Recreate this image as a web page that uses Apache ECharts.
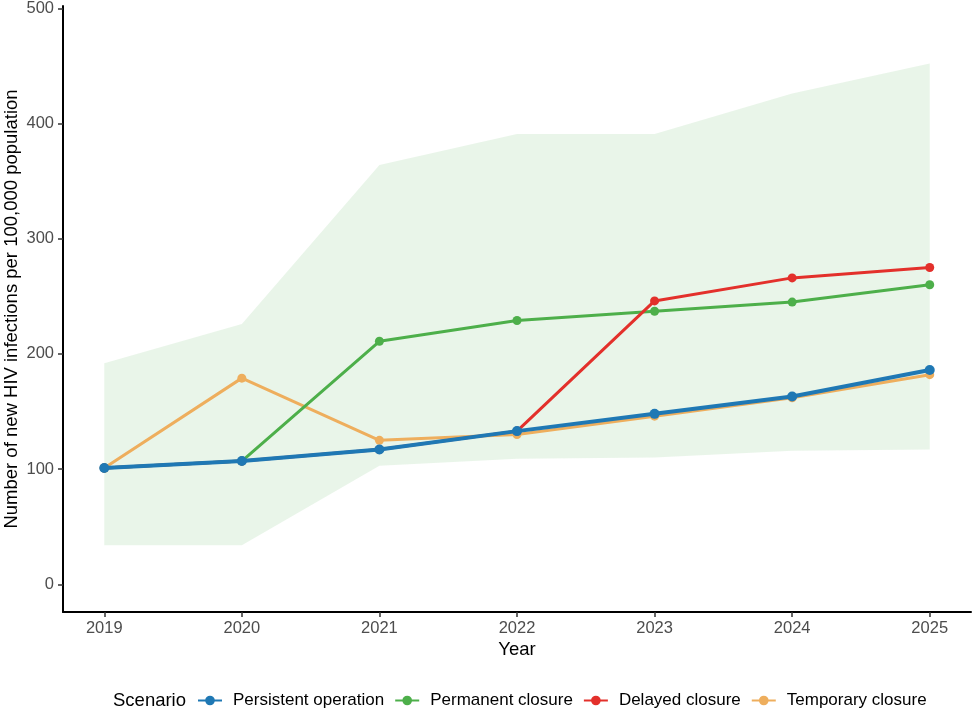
<!DOCTYPE html>
<html>
<head>
<meta charset="utf-8">
<script src="https://cdn.jsdelivr.net/npm/echarts@6/dist/echarts.min.js"></script>
<style>
  html, body { margin: 0; padding: 0; background: #fff; }
  #main { width: 975px; height: 715px; }
</style>
</head>
<body>
<div id="main"></div>
<script>
var years = [2019, 2020, 2021, 2022, 2023, 2024, 2025];
var yTicks = [0, 100, 200, 300, 400, 500];

// scenario values (new HIV infections per 100,000)
var persistent = [101, 107, 117, 133, 148, 163, 186];
var permanent  = [101, 107, 211, 229, 237, 245, 260];
var delayed    = [101, 107, 117, 133, 246, 266, 275];
var temporary  = [101, 179, 125, 130, 146, 162, 182];

// uncertainty band
var bandLow  = [34, 34, 103, 109, 110, 116, 117];
var bandHigh = [192, 226, 364, 391, 391, 426, 452];

var names = ['Persistent operation', 'Permanent closure', 'Delayed closure', 'Temporary closure'];
var colors = ['#1F78B4', '#4DAF4A', '#E3302B', '#EEAE5D'];

function pairs(vals) {
  var res = [];
  for (var i = 0; i < years.length; i++) res.push([years[i], vals[i]]);
  return res;
}

var myChart = echarts.init(document.getElementById('main'));

function lineSeries(name, vals, color, width, size, z) {
  return {
    name: name,
    type: 'line',
    data: pairs(vals),
    symbol: 'circle',
    symbolSize: size,
    z: z,
    itemStyle: { color: color },
    lineStyle: { color: color, width: width },
    emphasis: { disabled: true }
  };
}

// ribbon drawn as one polygon through the axis scales
function renderBand(params, api) {
  if (params.dataIndex !== 0) return;
  var pts = [];
  for (var i = 0; i < years.length; i++) pts.push(api.coord([years[i], bandHigh[i]]));
  for (var j = years.length - 1; j >= 0; j--) pts.push(api.coord([years[j], bandLow[j]]));
  return {
    type: 'polygon',
    shape: { points: pts },
    style: { fill: '#4DAF4A', opacity: 0.12 },
    silent: true
  };
}

var option = {
  backgroundColor: '#fff',
  animation: false,
  textStyle: { fontFamily: 'Liberation Sans, Arial, sans-serif' },
  title: {
    text: 'Scenario',
    left: 108,
    top: 686,
    textStyle: { fontSize: 18.5, fontWeight: 'normal', color: '#000', fontFamily: 'Liberation Sans' }
  },
  legend: {
    data: names,
    left: 197,
    top: 692,
    padding: 0,
    itemWidth: 24,
    itemHeight: 12,
    itemGap: 10,
    textStyle: { fontSize: 17, color: '#000', padding: [0, 0, 0, 6], fontFamily: 'Liberation Sans' }
  },
  grid: { left: 63, right: 4, top: 6, bottom: 103, containLabel: false, outerBoundsMode: 'none' },
  xAxis: {
    type: 'value',
    min: 2018.7,
    max: 2025.3,
    name: 'Year',
    nameLocation: 'middle',
    nameGap: 28,
    nameMoveOverlap: false,
    nameTextStyle: { fontSize: 18.5, color: '#000' },
    axisLine: { onZero: false, lineStyle: { color: '#000', width: 2 } },
    axisTick: { customValues: years, length: 5, lineStyle: { color: '#333', width: 1.5 } },
    axisLabel: {
      customValues: years, fontSize: 16.5, color: '#4D4D4D', margin: 8,
      formatter: function (v) { return String(v); }
    },
    splitLine: { show: false }
  },
  yAxis: {
    type: 'value',
    min: -24,
    max: 502,
    name: 'Number of new HIV infections per 100,000 population',
    nameLocation: 'middle',
    nameGap: 42,
    nameMoveOverlap: false,
    nameTextStyle: { fontSize: 18.5, color: '#000' },
    axisLine: { show: true, onZero: false, lineStyle: { color: '#000', width: 2 } },
    axisTick: { show: true, customValues: yTicks, length: 5, lineStyle: { color: '#333', width: 1.5 } },
    axisLabel: {
      customValues: yTicks, fontSize: 16.5, color: '#4D4D4D', margin: 9,
      formatter: function (v) { return String(v); }
    },
    splitLine: { show: false }
  },
  series: [
    {
      name: 'band',
      type: 'custom',
      data: years,
      renderItem: renderBand,
      clip: true,
      silent: true,
      z: 1
    },
    lineSeries(names[3], temporary, colors[3], 3, 9, 3),
    lineSeries(names[1], permanent, colors[1], 3, 9, 4),
    lineSeries(names[2], delayed, colors[2], 3, 9, 5),
    lineSeries(names[0], persistent, colors[0], 4, 10, 6)
  ]
};

myChart.setOption(option);
</script>
</body>
</html>
